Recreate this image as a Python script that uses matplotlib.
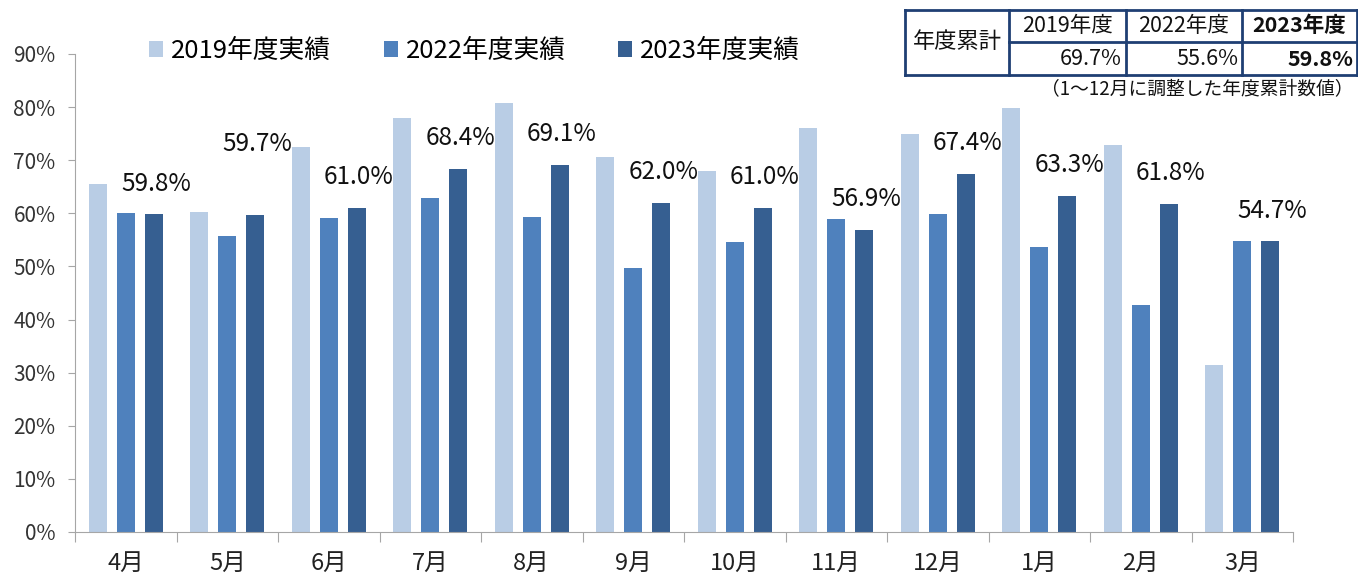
import numpy as np
import matplotlib.pyplot as plt
from matplotlib.lines import Line2D

plt.rcParams['font.family'] = ['Noto Sans CJK JP', 'DejaVu Sans']

months = ['4月', '5月', '6月', '7月', '8月', '9月', '10月', '11月', '12月', '1月', '2月', '3月']
fy2019 = [65.6, 60.3, 72.4, 78.0, 80.8, 70.7, 67.9, 76.0, 75.0, 79.8, 72.8, 31.4]
fy2022 = [60.0, 55.8, 59.1, 62.8, 59.4, 49.7, 54.6, 58.9, 59.9, 53.6, 42.8, 54.7]
fy2023 = [59.8, 59.7, 61.0, 68.4, 69.1, 62.0, 61.0, 56.9, 67.4, 63.3, 61.8, 54.7]
series_names = ['2019年度実績', '2022年度実績', '2023年度実績']
colors = ['#b9cde5', '#4f81bd', '#365f91']

# annual totals table
table_years = ['2019年度', '2022年度', '2023年度']
table_values = ['69.7%', '55.6%', '59.8%']

W, H = 1358, 575
fig = plt.figure(figsize=(W / 100, H / 100), dpi=100)
ax = fig.add_axes([75 / W, (H - 532) / H, (1293 - 75) / W, (532 - 54) / H])

x = np.arange(len(months))
bw = 0.18
off = 0.276
for k, (vals, name) in enumerate(zip([fy2019, fy2022, fy2023], series_names)):
    ax.bar(x + (k - 1) * off, vals, bw, color=colors[k], label=name, zorder=2)

# data labels for 2023 (5月 sits higher, above the 2019 bar)
for i, v in enumerate(fy2023):
    dy = 51 if i == 1 else 22
    ax.annotate(f'{v:.1f}%', (x[i] + off + 0.02, v), xytext=(0, dy), textcoords='offset points',
                ha='center', va='center', fontsize=17.5, color='#111111')

ax.set_xlim(-0.5, len(months) - 0.5)
ax.set_ylim(0, 90)
ax.set_yticks(np.arange(0, 91, 10))
ax.set_yticklabels([f'{t}%' for t in range(0, 91, 10)], fontsize=15, color='#333333')
ax.set_xticks(np.arange(-0.5, len(months), 1.0))
ax.set_xticklabels([])
ax.set_xticks(x, minor=True)
ax.set_xticklabels(months, minor=True, fontsize=17, color='#222222')
ax.tick_params(axis='x', which='major', length=7, color='#a6a6a6', direction='out')
ax.tick_params(axis='x', which='minor', length=0, pad=14)
ax.tick_params(axis='y', length=5, color='#a6a6a6', pad=9)
for s in ['top', 'right']:
    ax.spines[s].set_visible(False)
ax.spines['left'].set_color('#a6a6a6')
ax.spines['bottom'].set_color('#a6a6a6')

ax.legend(loc='upper left', bbox_to_anchor=(64 / (1293 - 75), 1.055), ncol=3, frameon=False,
          fontsize=18.5, handlelength=0.55, handleheight=0.55, handletextpad=0.3,
          columnspacing=2.05, borderaxespad=0)

# table in the top right, pixel coords
def px(xp, yp):
    return xp / W, 1 - yp / H

tcol = '#1f3f73'
xs = [905, 1009, 1126, 1242, 1357]
lw = 2.0
fig.add_artist(Line2D([px(905, 0)[0], px(1357, 0)[0]], [px(0, 10)[1]] * 2, color=tcol, lw=lw))
fig.add_artist(Line2D([px(905, 0)[0], px(1357, 0)[0]], [px(0, 75)[1]] * 2, color=tcol, lw=lw))
fig.add_artist(Line2D([px(1009, 0)[0], px(1357, 0)[0]], [px(0, 42)[1]] * 2, color=tcol, lw=lw))
for xv in xs:
    fig.add_artist(Line2D([px(xv, 0)[0]] * 2, [px(0, 10)[1], px(0, 75)[1]], color=tcol, lw=lw))

fig.text(*px(957, 42), '年度累計', ha='center', va='center', fontsize=16, color='#111111')
for j, (yr, val) in enumerate(zip(table_years, table_values)):
    wt = 'bold' if j == 2 else 'normal'
    cx = (xs[j + 1] + xs[j + 2]) / 2
    fig.text(*px(cx, 26), yr, ha='center', va='center', fontsize=15.5, color='#111111', fontweight=wt)
    fig.text(*px(xs[j + 2] - 4, 59), val, ha='right', va='center', fontsize=15.5, color='#111111',
             fontweight=wt)
fig.text(*px(1197, 89), '（1〜12月に調整した年度累計数値）', ha='center', va='center',
         fontsize=13.5, color='#111111')

fig.savefig('out.png', dpi=100)
